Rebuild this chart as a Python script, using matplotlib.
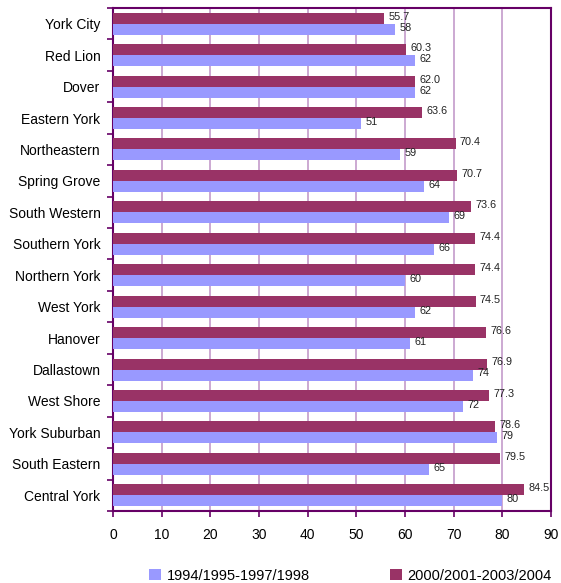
import matplotlib.pyplot as plt
import numpy as np

plt.rcParams['font.family'] = ['Liberation Sans', 'DejaVu Sans']

# Data (top to bottom)
districts = ['York City', 'Red Lion', 'Dover', 'Eastern York', 'Northeastern',
             'Spring Grove', 'South Western', 'Southern York', 'Northern York',
             'West York', 'Hanover', 'Dallastown', 'West Shore', 'York Suburban',
             'South Eastern', 'Central York']
early = [58, 62, 62, 51, 59, 64, 69, 66, 60, 62, 61, 74, 72, 79, 65, 80]
late = [55.7, 60.3, 62.0, 63.6, 70.4, 70.7, 73.6, 74.4, 74.4, 74.5, 76.6, 76.9,
        77.3, 78.6, 79.5, 84.5]
early_label = '1994/1995-1997/1998'
late_label = '2000/2001-2003/2004'

lav = '#9999FF'
maroon = '#993366'
frame = '#660066'
grid = '#C49BCB'

fig = plt.figure(figsize=(5.61, 5.83), dpi=100)
ax = fig.add_axes([0.2014, 0.1235, 0.7807, 0.8628])

y = np.arange(len(districts))
h = 0.35
b_late = ax.barh(y - h / 2, late, height=h, color=maroon, zorder=3)
b_early = ax.barh(y + h / 2, early, height=h, color=lav, zorder=3)

for yi, v in zip(y, late):
    ax.text(v + 0.9, yi - h / 2 - 0.05, f'{v:.1f}', fontsize=7.8, color='#222222',
            va='center', ha='left', zorder=4)
for yi, v in zip(y, early):
    ax.text(v + 0.9, yi + h / 2 - 0.05, f'{v:d}', fontsize=7.8, color='#222222',
            va='center', ha='left', zorder=4)

ax.set_xlim(0, 90)
ax.set_ylim(len(districts) - 0.5, -0.5)
ax.set_xticks(np.arange(0, 91, 10))
ax.set_yticks(y)
ax.set_yticklabels(districts, fontsize=10)
ax.set_yticks(np.arange(-0.5, len(districts), 1), minor=True)
ax.tick_params(axis='y', which='major', length=0, pad=9)
ax.tick_params(axis='y', which='minor', length=4, color=frame, width=1.2)
ax.tick_params(axis='x', length=4, color=frame, width=1.2, labelsize=10, pad=8)
ax.xaxis.grid(True, color=grid, linewidth=1.2, zorder=0)

for s in ax.spines.values():
    s.set_color(frame)
    s.set_linewidth(1.5)

fig.legend((b_early, b_late), (early_label, late_label), loc='lower center',
           bbox_to_anchor=(0.625, -0.022), ncol=2, frameon=False, fontsize=10.5,
           handlelength=0.8, handleheight=0.8, columnspacing=5.5, handletextpad=0.4)

fig.savefig('out.png', dpi=100)
